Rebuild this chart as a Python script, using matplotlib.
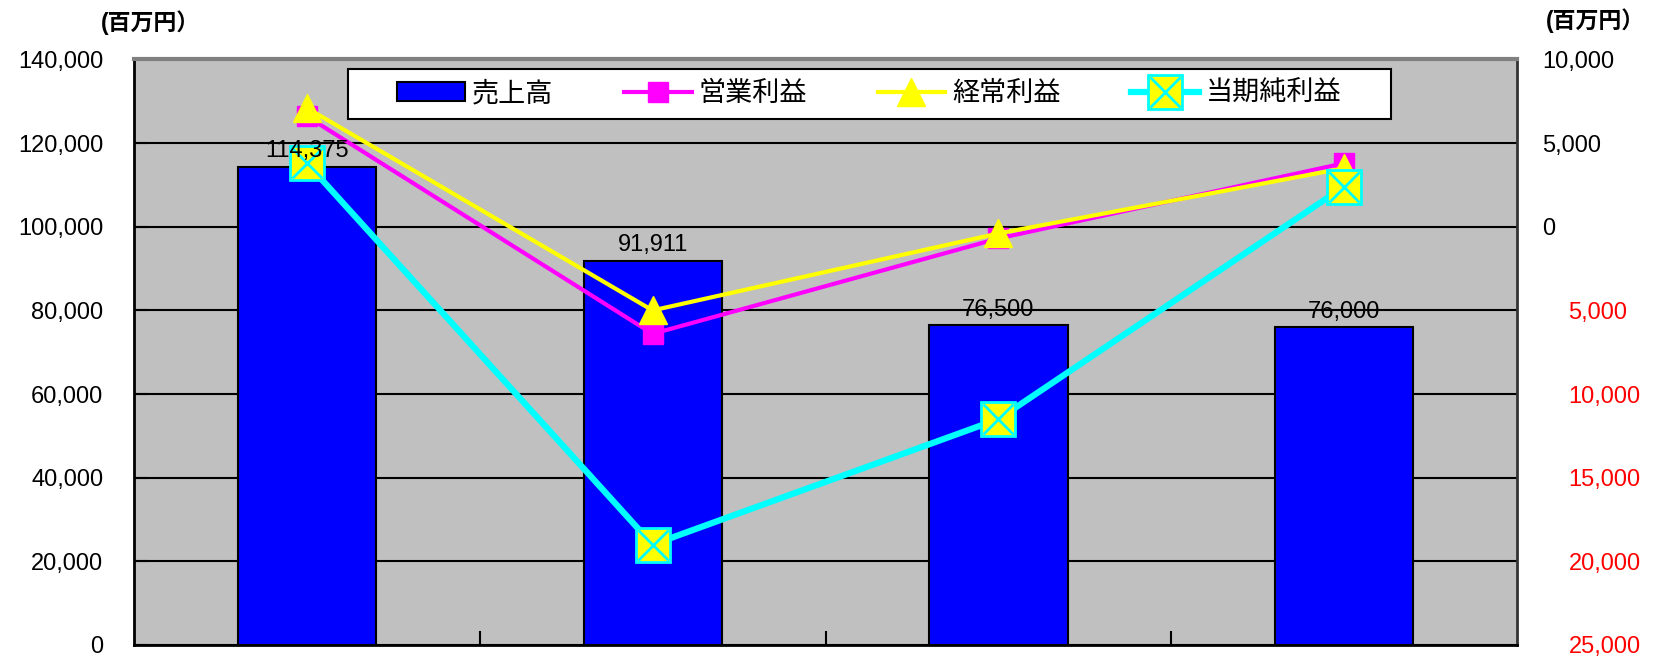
import numpy as np
import matplotlib
matplotlib.use('Agg')
import matplotlib.pyplot as plt
from matplotlib.patches import Rectangle
from matplotlib.legend_handler import HandlerTuple

plt.rcParams['font.family'] = ['Liberation Sans', 'Noto Sans CJK JP', 'DejaVu Sans']

# 数値データ（百万円）
periods = ['1', '2', '3', '4']
sales = [114375, 91911, 76500, 76000]
operating = [6600, -6400, -700, 3800]
ordinary = [7100, -5000, -400, 3500]
net_income = [3800, -19000, -11500, 2400]

names = ['売上高', '営業利益', '経常利益', '当期純利益']
left_ticks = list(range(0, 140001, 20000))
right_ticks = list(range(-25000, 10001, 5000))

fig = plt.figure(figsize=(16.59, 6.63), dpi=100)
ax = fig.add_axes([0.0808, 0.02715, 0.8336, 0.88315])
ax.set_facecolor('#C0C0C0')

x = np.arange(len(periods))
bars = ax.bar(x, sales, width=0.4, color='#0000FF', edgecolor='black',
              linewidth=1.5, zorder=2)

ax.set_xlim(-0.5, len(periods) - 0.5)
ax.set_ylim(0, 140000)
ax.set_yticks(left_ticks)
ax.set_yticklabels([f'{v:,}' for v in left_ticks], fontsize=17)
ax.set_xticks(x[:-1] + 0.5)
ax.set_xticklabels([])
ax.tick_params(axis='x', direction='in', length=10, width=1.5)
ax.tick_params(axis='y', direction='in', length=10, width=1.5, pad=22)
ax.grid(axis='y', color='black', linewidth=1.5, zorder=1)
ax.set_axisbelow(True)
for s in ['left', 'bottom']:
    ax.spines[s].set_linewidth(2)
    ax.spines[s].set_color('black')
ax.spines['top'].set_color('#808080')
ax.spines['top'].set_linewidth(3)
ax.spines['right'].set_color('#333333')
ax.spines['right'].set_linewidth(2)

# 右軸：利益
ax2 = ax.twinx()
ax2.set_ylim(-25000, 10000)
ax2.set_yticks(right_ticks)
ax2.set_yticklabels([f'{v:,}' if v >= 0 else '' for v in right_ticks], fontsize=17)
ax2.tick_params(axis='y', length=0, pad=18)
for s in ax2.spines.values():
    s.set_visible(False)

# 負の値は赤字で表示（マイナス記号なし）
ax3 = ax.twinx()
ax3.set_ylim(-25000, 10000)
ax3.set_yticks([v for v in right_ticks if v < 0])
ax3.set_yticklabels([f'{abs(v):,}' for v in right_ticks if v < 0],
                    fontsize=17, color='#FF0000')
ax3.tick_params(axis='y', length=0, pad=37)
for s in ax3.spines.values():
    s.set_visible(False)

l1, = ax2.plot(x, operating, color='#FF00FF', linewidth=3, marker='s',
               markersize=14, markerfacecolor='#FF00FF', markeredgecolor='#FF00FF',
               zorder=3)
l2, = ax2.plot(x, ordinary, color='#FFFF00', linewidth=3, marker='^',
               markersize=20, markerfacecolor='#FFFF00', markeredgecolor='#FFFF00',
               zorder=4)
l3, = ax2.plot(x, net_income, color='#00FFFF', linewidth=4.5, marker='s',
               markersize=24, markerfacecolor='#FFFF00', markeredgecolor='#00FFFF',
               markeredgewidth=2, zorder=5)
l3x, = ax2.plot(x, net_income, linestyle='none', marker='x', markersize=22,
                markeredgecolor='#00FFFF', markeredgewidth=2, zorder=6)

# 売上高のラベル（折れ線より前面）
for xi, v in zip(x, sales):
    ax3.annotate(f'{v:,}', xy=(xi, v), xycoords=ax.transData,
                 xytext=(0, 3), textcoords='offset points',
                 ha='center', va='bottom', fontsize=17, zorder=9)

# 凡例枠
frame = Rectangle((0.1547, 0.8984), 0.7542, 0.0854, transform=ax.transAxes,
                  facecolor='white', edgecolor='black', linewidth=1.5, zorder=7)
ax3.add_patch(frame)
leg = ax3.legend([bars, l1, l2, (l3, l3x)], names, ncol=4, frameon=False,
                 loc='center', bbox_to_anchor=(0.5318, 0.941),
                 bbox_transform=ax.transAxes, fontsize=19.5,
                 handlelength=2.5, handletextpad=0.26, columnspacing=2.6,
                 handler_map={tuple: HandlerTuple(ndivide=1, pad=0)})
leg.set_zorder(8)

fig.text(150 / 1659, 1 - 23 / 663, '(百万円）', fontsize=16.5, fontweight='bold',
         ha='center', va='center')
fig.text(1595 / 1659, 1 - 21 / 663, '(百万円）', fontsize=16.5, fontweight='bold',
         ha='center', va='center')

fig.savefig('out.png', dpi=100)
